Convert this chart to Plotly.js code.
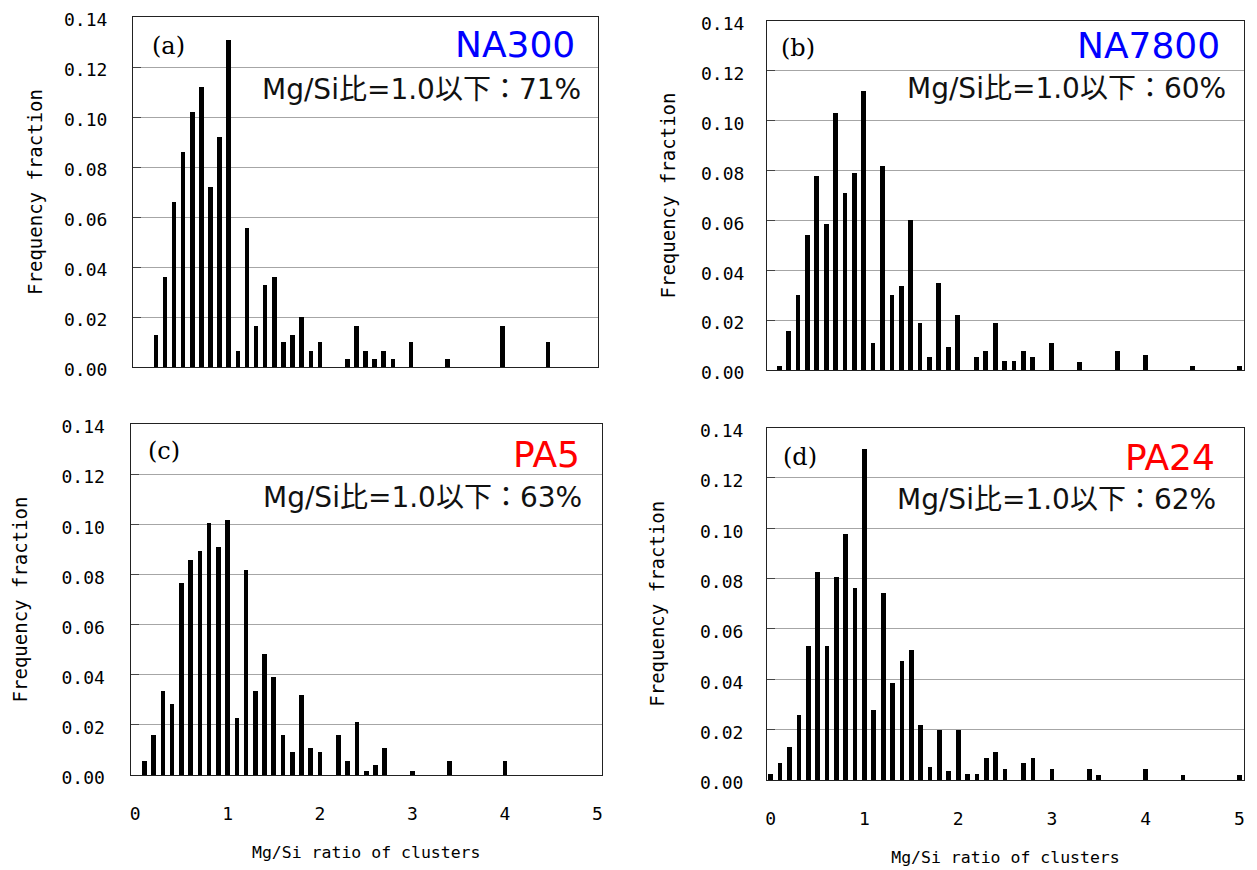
<!DOCTYPE html>
<html>
<head>
<meta charset="utf-8">
<script src="https://cdn.plot.ly/plotly-3.0.1.min.js"></script>
<style>html,body{margin:0;padding:0;background:#fff;}#chart{width:1257px;height:870px;}</style>
</head>
<body>
<div id="chart"></div>
<script>
// ---- Data (Mg/Si ratio bins, frequency fraction) ----
const ratioA = [0.2,0.3,0.4,0.5,0.6,0.7,0.8,0.9,1.0,1.1,1.2,1.3,1.4,1.5,1.6,1.7,1.8,1.9,2.0,2.3,2.4,2.5,2.6,2.7,2.8,3.0,3.4,4.0,4.5];
const fracA  = [0.013,0.036,0.066,0.086,0.102,0.112,0.072,0.092,0.131,0.0065,0.0556,0.0165,0.033,0.036,0.010,0.013,0.020,0.0065,0.010,0.0033,0.0165,0.0065,0.0033,0.0065,0.0033,0.010,0.0033,0.0165,0.010];

const ratioB = [0.1,0.2,0.3,0.4,0.5,0.6,0.7,0.8,0.9,1.0,1.1,1.2,1.3,1.4,1.5,1.6,1.7,1.8,1.9,2.0,2.2,2.3,2.4,2.5,2.6,2.7,2.8,3.0,3.3,3.7,4.0,4.5,5.0];
const fracB  = [0.0018,0.0157,0.030,0.054,0.078,0.0585,0.103,0.071,0.079,0.112,0.011,0.082,0.030,0.0335,0.060,0.019,0.0052,0.035,0.0094,0.022,0.0052,0.0078,0.019,0.0035,0.0035,0.0078,0.0052,0.011,0.0034,0.0078,0.006,0.0018,0.0018];

const ratioC = [0.1,0.2,0.3,0.4,0.5,0.6,0.7,0.8,0.9,1.0,1.1,1.2,1.3,1.4,1.5,1.6,1.7,1.8,1.9,2.0,2.2,2.3,2.4,2.5,2.6,2.7,3.0,3.4,4.0];
const fracC  = [0.0054,0.016,0.0336,0.0283,0.0766,0.0856,0.0895,0.1004,0.0909,0.1016,0.0229,0.0819,0.0336,0.0482,0.0389,0.016,0.0091,0.032,0.0107,0.0091,0.016,0.0054,0.0213,0.0016,0.0038,0.0107,0.0016,0.0054,0.0054];

const ratioD = [0.0,0.1,0.2,0.3,0.4,0.5,0.6,0.7,0.8,0.9,1.0,1.1,1.2,1.3,1.4,1.5,1.6,1.7,1.8,1.9,2.0,2.1,2.2,2.3,2.4,2.5,2.7,2.8,3.0,3.4,3.5,4.0,4.4,5.0];
const fracD  = [0.0024,0.0068,0.013,0.0259,0.0534,0.0827,0.0534,0.0808,0.0978,0.0764,0.1316,0.0279,0.0742,0.0386,0.0472,0.0516,0.0217,0.0051,0.0197,0.0035,0.0197,0.0022,0.0022,0.0088,0.011,0.0044,0.0068,0.0088,0.0044,0.0044,0.002,0.0044,0.002,0.002];

const panelLabels = ['(a)','(b)','(c)','(d)'];
const sampleNames = ['NA300','NA7800','PA5','PA24'];
const sampleColors = ['#0000ff','#0000ff','#ff0000','#ff0000'];
const shareText = ['Mg/Si比=1.0以下：71%','Mg/Si比=1.0以下：60%','Mg/Si比=1.0以下：63%','Mg/Si比=1.0以下：62%'];
const yTickVals = [0,0.02,0.04,0.06,0.08,0.10,0.12,0.14];
const xTickVals = [0,1,2,3,4,5];
const xTitle = 'Mg/Si ratio of clusters';
const yTitle = 'Frequency fraction';

// ---- Layout geometry (pixels in the 1257x870 frame) ----
const W = 1257, H = 870;
const boxes = [
  {x0:133, x1:598, y0:17, y1:367, xr:[-0.05,5.05], showX:false, ySo:21, yTitleSo:16},
  {x0:767, x1:1244, y0:21, y1:370, xr:[-0.03,5.05], showX:false, ySo:18, yTitleSo:20},
  {x0:130.5, x1:602, y0:424, y1:775, xr:[-0.05,5.05], showX:true, ySo:21, yTitleSo:28},
  {x0:767, x1:1244, y0:427.5, y1:780, xr:[-0.04,5.05], showX:true, ySo:19, yTitleSo:30}
];
const xs = [ratioA, ratioB, ratioC, ratioD];
const ys = [fracA, fracB, fracC, fracD];

const monoFont = 'DejaVu Sans Mono, monospace';
const traces = [];
const layout = {
  width: W, height: H,
  margin: {l:0, r:0, t:0, b:0},
  paper_bgcolor: '#ffffff', plot_bgcolor: '#ffffff',
  showlegend: false,
  bargap: 0,
  annotations: []
};

boxes.forEach((b, i) => {
  const n = i === 0 ? '' : String(i + 1);
  traces.push({
    type: 'bar', x: xs[i], y: ys[i], width: 0.05,
    marker: {color: '#000000', line: {width: 0}},
    xaxis: 'x' + n, yaxis: 'y' + n, hoverinfo: 'x+y'
  });
  layout['xaxis' + n] = {
    domain: [b.x0 / W, b.x1 / W], anchor: 'y' + n,
    range: b.xr, tickvals: xTickVals, showticklabels: b.showX,
    ticks: '', showgrid: false, zeroline: false,
    showline: true, mirror: true, linecolor: '#222', linewidth: 1,
    tickfont: {family: monoFont, size: 18, color: '#000'},
    ticklabelstandoff: 22,
    title: b.showX ? {text: xTitle, font: {family: monoFont, size: 16.5, color: '#000'}, standoff: 23} : {text: ''}
  };
  layout['yaxis' + n] = {
    domain: [1 - b.y1 / H, 1 - b.y0 / H], anchor: 'x' + n,
    range: [0, 0.14], tickvals: yTickVals, tickformat: '.2f',
    ticks: 'inside', ticklen: 8, tickcolor: '#444', tickwidth: 1,
    showgrid: true, gridcolor: '#a6a6a6', gridwidth: 1, zeroline: false,
    showline: true, mirror: true, linecolor: '#222', linewidth: 1,
    tickfont: {family: monoFont, size: 18, color: '#000'},
    ticklabelstandoff: b.ySo, ticklabelshift: 3,
    title: {text: yTitle, font: {family: monoFont, size: 19, color: '#000'}, standoff: b.yTitleSo}
  };
  // panel letter
  const labPos = [[150,46],[779,48],[146,451],[781,457]][i];
  layout.annotations.push({
    xref: 'paper', yref: 'paper', x: labPos[0] / W, y: 1 - labPos[1] / H,
    xanchor: 'left', yanchor: 'middle', showarrow: false, text: panelLabels[i],
    font: {family: 'DejaVu Serif, Liberation Serif, serif', size: 24, color: '#000'}
  });
  const namePos = [[577,44],[1222,46],[582,454],[1217,457.5]][i];
  layout.annotations.push({
    xref: 'paper', yref: 'paper', x: namePos[0] / W, y: 1 - namePos[1] / H,
    xanchor: 'right', yanchor: 'middle', showarrow: false, text: sampleNames[i],
    font: {family: 'DejaVu Sans, sans-serif', size: 36, color: sampleColors[i]}
  });
  const sharePos = [[583,90],[1228,88],[584,497.5],[1218,500]][i];
  layout.annotations.push({
    xref: 'paper', yref: 'paper', x: sharePos[0] / W, y: 1 - sharePos[1] / H,
    xanchor: 'right', yanchor: 'middle', showarrow: false, text: shareText[i],
    font: {family: 'DejaVu Sans, Noto Sans CJK JP, sans-serif', size: 28, color: '#111'}
  });
});

Plotly.newPlot('chart', traces, layout, {displayModeBar: false, staticPlot: true});
</script>
</body>
</html>
